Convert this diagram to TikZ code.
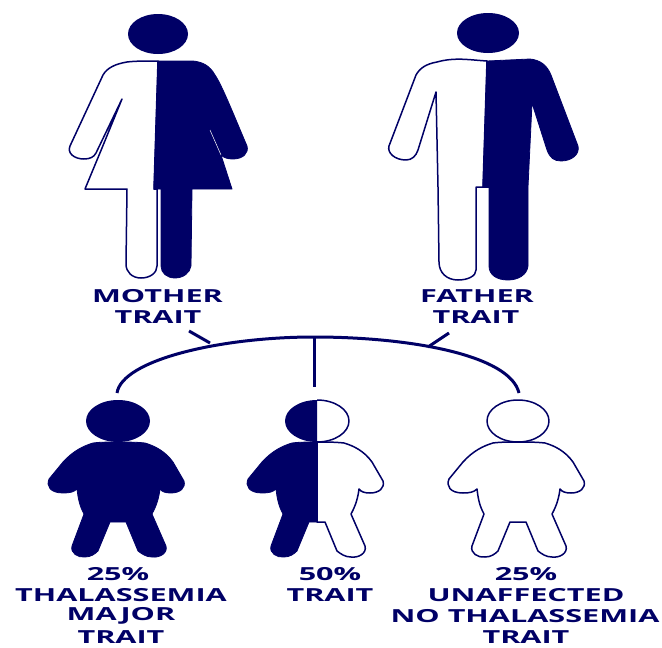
\documentclass[tikz,border=0pt]{standalone}
\usepackage{fontspec}
\setmainfont[FakeStretch=1.7]{Open Sans}
\definecolor{navy}{RGB}{0,0,102}
\tikzset{
  solidpart/.style={fill=navy,draw=navy,line width=0.8pt,line join=round},
  openpart/.style={fill=white,draw=navy,line width=1.5pt,line join=round},
  link/.style={draw=navy,line width=3pt},
  lbl/.style={text=navy,font=\fontsize{18pt}{18pt}\selectfont\bfseries,inner sep=0pt,anchor=center}
}
\newcommand{\lefthalf}{
  (0,21) .. controls (-8,21) and (-18,21) .. (-25,22)
  .. controls (-35,25) and (-45,30) .. (-55,41)
  -- (-69,58) .. controls (-72,65) and (-68,72) .. (-55,72)
  .. controls (-48,72) and (-44,71) .. (-41,68)
  .. controls (-40,76) and (-39,84) .. (-34,93)
  -- (-46,125) .. controls (-48,132) and (-40,137) .. (-33,136)
  .. controls (-27,136) and (-23,133) .. (-20,130)
  -- (-8,101) -- (0,101) -- cycle}
\newcommand{\righthalf}{
  (0,21) .. controls (8,21) and (18,21) .. (27,22)
  .. controls (37,25) and (47,30) .. (55,41)
  -- (66,60) .. controls (68,67) and (62,72) .. (53,72)
  .. controls (48,72) and (44,71) .. (42,68)
  .. controls (41,76) and (39,84) .. (34,93)
  -- (48,125) .. controls (50,132) and (42,137) .. (34,136)
  .. controls (28,136) and (24,133) .. (20,130)
  -- (8,101) -- (0,101) -- cycle}
\newcommand{\wholekid}{
  (0,21) .. controls (-8,21) and (-18,21) .. (-25,22)
  .. controls (-35,25) and (-45,30) .. (-55,41)
  -- (-69,58) .. controls (-72,65) and (-68,72) .. (-55,72)
  .. controls (-48,72) and (-44,71) .. (-41,68)
  .. controls (-40,76) and (-39,84) .. (-34,93)
  -- (-46,125) .. controls (-48,132) and (-40,137) .. (-33,136)
  .. controls (-27,136) and (-23,133) .. (-20,130)
  -- (-8,101) -- (8,101) -- (20,130)
  .. controls (24,133) and (28,136) .. (34,136)
  .. controls (42,137) and (50,132) .. (48,125)
  -- (34,93) .. controls (39,84) and (41,76) .. (42,68)
  .. controls (44,71) and (48,72) .. (53,72)
  .. controls (62,72) and (68,67) .. (66,60)
  -- (55,41) .. controls (47,30) and (37,25) .. (27,22)
  .. controls (18,21) and (8,21) .. (0,21) -- cycle}
\begin{document}
\begin{tikzpicture}[x=1pt,y=-1pt]
\useasboundingbox (0,0) rectangle (662,648);
% Mother
\fill[navy] (158,34) ellipse [x radius=30,y radius=20];
\draw[openpart] (158,61) .. controls (145,61) and (135,61) .. (127,62)
  .. controls (115,64) and (107,68) .. (103,75)
  -- (70,146) .. controls (67,153) and (74,159) .. (84,159)
  .. controls (90,159) and (94,157) .. (96,153)
  -- (122,99) -- (102,148) -- (85,189) -- (127,189) -- (126,264)
  .. controls (126,272) and (132,278) .. (141,278)
  .. controls (150,278) and (157,273) .. (157,266) -- (157,189) -- (154,189) -- cycle;
\fill[solidpart] (158,61) -- (193,61)
  .. controls (203,62) and (210,66) .. (215,75)
  .. controls (222,85) and (235,118) .. (247,146)
  .. controls (249,153) and (243,159) .. (233,159)
  .. controls (228,159) and (224,158) .. (221,155)
  -- (232,189) -- (192,189) -- (191,266)
  .. controls (190,273) and (183,278) .. (175,278)
  .. controls (167,278) and (161,273) .. (161,266)
  -- (161,189) -- (154,189) -- cycle;
\draw[white,line width=0.5pt] (210,130) -- (221,155);
% Father
\fill[navy] (488,33) ellipse [x radius=31,y radius=20];
\draw[openpart] (487,61) .. controls (470,60) and (455,57) .. (437,62)
  .. controls (426,64) and (420,68) .. (416,75)
  -- (389,146) .. controls (387,153) and (395,160) .. (406,160)
  .. controls (412,160) and (416,156) .. (418,150)
  -- (436,92) -- (438,187) -- (439,262)
  .. controls (439,273) and (447,280) .. (458,280)
  .. controls (468,280) and (476,276) .. (476,270)
  -- (476,187) -- (489,187) -- (483,187) -- cycle;
\fill[solidpart] (487,61) -- (530,59)
  .. controls (540,60) and (547,65) .. (551,75)
  -- (578,146) .. controls (580,154) and (572,161) .. (561,161)
  .. controls (554,161) and (550,158) .. (547,150)
  -- (532,103) -- (528,187) -- (528,266)
  .. controls (527,275) and (518,280) .. (508,280)
  .. controls (497,280) and (489,275) .. (489,266)
  -- (489,187) -- (483,187) -- cycle;
% Children
\begin{scope}[shift={(118,421)}]
  \fill[navy] (0,0) ellipse [x radius=32,y radius=21];
  \fill[solidpart] \wholekid;
\end{scope}
\begin{scope}[shift={(317,421)}]
  \draw[openpart] (0,-21) arc[start angle=-90,end angle=90,x radius=32,y radius=21];
  \draw[openpart] \righthalf;
  \fill[navy] (0,21) arc[start angle=90,end angle=270,x radius=32,y radius=21] -- cycle;
  \fill[solidpart] \lefthalf;
\end{scope}
\begin{scope}[shift={(518,421)}]
  \draw[openpart] (0,0) ellipse [x radius=31,y radius=21];
  \draw[openpart] \wholekid;
\end{scope}
% Labels
\node[lbl] (m1) at (157.5,296) {MOTHER};
\node[lbl] (m2) at (158,317.5) {TRAIT};
\node[lbl] (f1) at (477,296) {FATHER};
\node[lbl] (f2) at (476,317.5) {TRAIT};
\node[lbl] (a1) at (118,574) {25\%};
\node[lbl] (a2) at (121,595) {THALASSEMIA};
\node[lbl] (a3) at (121,616) {MAJOR};
\node[lbl] (a4) at (121,637) {TRAIT};
\node[lbl] (b1) at (330,574) {50\%};
\node[lbl] (b2) at (330,595) {TRAIT};
\node[lbl] (c1) at (526,574) {25\%};
\node[lbl] (c2) at (526,595) {UNAFFECTED};
\node[lbl] (c3) at (525,616) {NO THALASSEMIA};
\node[lbl] (c4) at (526,637) {TRAIT};
% Connectors
\coordinate (archL) at (117,393);
\coordinate (archR) at (519,393);
\coordinate (archT) at (314,337);
\coordinate (kidM) at (314,387);
\coordinate (tickL) at (189,331);
\coordinate (tickLb) at (210,343);
\coordinate (tickR) at (449,333);
\coordinate (tickRb) at (428,347);
\draw[link] (archL) .. controls (122,360) and (220,337) .. (archT)
  .. controls (410,337) and (510,355) .. (archR);
\draw[link] (archT) -- (kidM);
\draw[link] (tickL) -- (tickLb);
\draw[link] (tickR) -- (tickRb);
\end{tikzpicture}
\end{document}
